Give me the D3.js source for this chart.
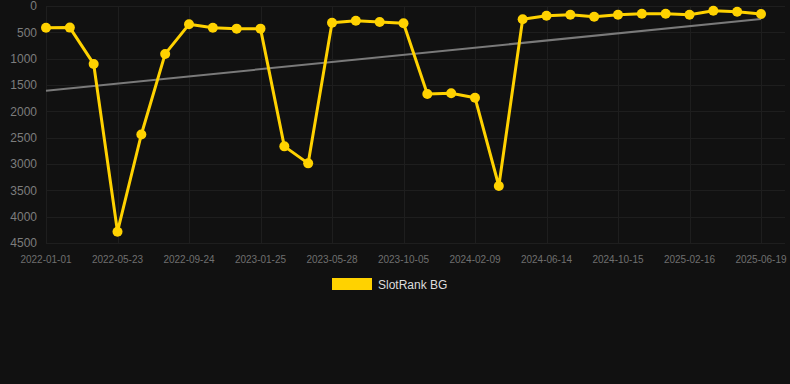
<!DOCTYPE html>
<html>
<head>
<meta charset="utf-8">
<script src="https://cdn.jsdelivr.net/npm/d3@7/dist/d3.min.js"></script>
<style>
  html, body { margin: 0; padding: 0; background: #111111; }
  svg { display: block; font-family: "Liberation Sans", Arial, sans-serif; }
</style>
</head>
<body>
<svg id="chart" width="790" height="384"></svg>
<script>
// dates for each point (only every third one is labelled on the axis)
const dates = [
  '2022-01-01', '2022-02-17', '2022-04-05', '2022-05-23', '2022-07-03', '2022-08-13',
  '2022-09-24', '2022-11-04', '2022-12-15', '2023-01-25', '2023-03-06', '2023-04-17',
  '2023-05-28', '2023-07-10', '2023-08-23', '2023-10-05', '2023-11-16', '2023-12-28',
  '2024-02-09', '2024-03-22', '2024-05-03', '2024-06-14', '2024-07-25', '2024-09-04',
  '2024-10-15', '2024-11-25', '2025-01-06', '2025-02-16', '2025-03-29', '2025-05-09',
  '2025-06-19'
]

// rank values (lower is better, axis is inverted)
const ranks = [
  412, 410, 1100, 4285, 2440, 910,
  348, 412, 430, 430, 2665, 2988,
  317, 279, 304, 329, 1670, 1658,
  1741, 3418, 253, 184, 165, 203,
  165, 146, 146, 165, 89, 108,
  152
]

const yTicks = [0, 500, 1000, 1500, 2000, 2500, 3000, 3500, 4000, 4500]
const xTickLabels = dates.filter((d, i) => i % 3 === 0)

// trend line end values
const trend = [1608, 247]

const seriesName = 'SlotRank BG'

const svg = d3.select('#chart')
const margin = { top: 6, right: 5, bottom: 141, left: 46 }
const width = 790
const height = 384
const innerH = height - margin.top - margin.bottom
const plotRight = width - margin.right

const x = d3.scalePoint().domain(dates).range([margin.left, 761])
const y = d3.scaleLinear().domain([0, 4500]).range([margin.top, margin.top + innerH])

// grid
const grid = svg.append('g')
grid.selectAll('line.h')
  .data(yTicks)
  .enter()
  .append('line')
  .attr('x1', margin.left)
  .attr('x2', plotRight)
  .attr('y1', d => Math.round(y(d)) + 0.5)
  .attr('y2', d => Math.round(y(d)) + 0.5)
  .attr('stroke', '#1e1e1e')
  .attr('stroke-width', 1)

grid.selectAll('line.v')
  .data(xTickLabels)
  .enter()
  .append('line')
  .attr('x1', d => Math.round(x(d)) + 0.5)
  .attr('x2', d => Math.round(x(d)) + 0.5)
  .attr('y1', margin.top)
  .attr('y2', margin.top + innerH)
  .attr('stroke', '#1e1e1e')
  .attr('stroke-width', 1)

// y axis labels
svg.append('g')
  .selectAll('text')
  .data(yTicks)
  .enter()
  .append('text')
  .attr('x', 37)
  .attr('y', d => y(d))
  .attr('dy', '0.35em')
  .attr('text-anchor', 'end')
  .attr('font-size', 12)
  .attr('fill', '#7d7d7d')
  .text(d => d)

// x axis labels
svg.append('g')
  .selectAll('text')
  .data(xTickLabels)
  .enter()
  .append('text')
  .attr('x', d => x(d))
  .attr('y', 263)
  .attr('text-anchor', 'middle')
  .attr('font-size', 10)
  .attr('fill', '#6f6f6f')
  .text(d => d)

// trend line
svg.append('line')
  .attr('x1', x(dates[0]))
  .attr('y1', y(trend[0]))
  .attr('x2', x(dates[dates.length - 1]))
  .attr('y2', y(trend[1]))
  .attr('stroke', '#7a7a7a')
  .attr('stroke-width', 2)

// series
const points = dates.map((d, i) => ({ date: d, rank: ranks[i] }))

svg.append('path')
  .datum(points)
  .attr('fill', 'none')
  .attr('stroke', '#FFD200')
  .attr('stroke-width', 3)
  .attr('stroke-linejoin', 'round')
  .attr('d', d3.line().x(d => x(d.date)).y(d => y(d.rank)))

svg.append('g')
  .selectAll('circle')
  .data(points)
  .enter()
  .append('circle')
  .attr('cx', d => x(d.date))
  .attr('cy', d => y(d.rank))
  .attr('r', 5)
  .attr('fill', '#FFD200')

// legend
const legend = svg.append('g')
legend.append('rect')
  .attr('x', 332)
  .attr('y', 278)
  .attr('width', 40)
  .attr('height', 12)
  .attr('fill', '#FFD200')
legend.append('text')
  .attr('x', 378)
  .attr('y', 289)
  .attr('font-size', 12)
  .attr('fill', '#dddddd')
  .text(seriesName)
</script>
</body>
</html>
